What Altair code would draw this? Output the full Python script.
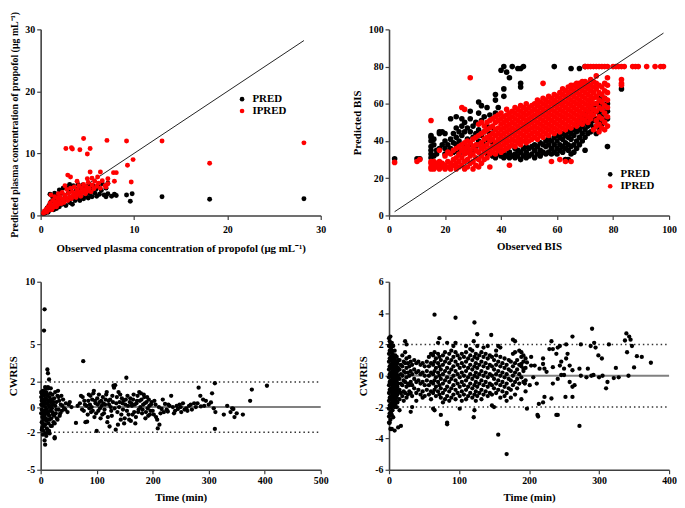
import altair as alt
import pandas as pd

FONT = "Liberation Serif"

# ---------------- Panel A: observed vs predicted propofol concentration ----------------
a_pred = [
    (0.3, 0.3), (0.5, 0.4), (0.6, 0.8), (0.7, 1.2), (0.8, 0.5), (0.9, 1.6), (1.0, 3.4), (1.0, 0.9),
    (1.1, 2.2), (1.2, 1.3), (1.3, 2.9), (1.4, 0.9), (1.5, 3.6), (1.5, 1.6), (1.6, 2.5), (1.7, 1.1),
    (1.8, 3.2), (1.9, 1.9), (2.0, 4.1), (2.0, 1.4), (2.1, 2.7), (2.2, 3.6), (2.3, 1.8), (2.4, 4.4),
    (2.5, 2.3), (2.6, 3.2), (2.7, 1.6), (2.8, 4.6), (2.9, 2.6), (3.0, 3.7), (3.1, 5.0), (3.1, 2.1),
    (3.2, 4.2), (3.3, 2.9), (3.4, 1.8), (3.5, 4.8), (3.6, 3.4), (3.7, 2.4), (3.8, 4.2), (3.9, 2.8),
    (4.0, 5.0), (4.1, 3.6), (4.2, 2.4), (4.3, 4.5), (4.4, 3.0), (4.5, 4.9), (4.6, 2.7), (4.7, 3.8),
    (4.8, 4.6), (4.9, 3.1), (5.0, 4.2), (5.1, 2.8), (5.2, 5.0), (5.3, 3.5), (5.4, 4.4), (5.5, 3.0),
    (5.6, 4.8), (5.8, 3.6), (5.9, 4.2), (6.0, 3.1), (6.2, 4.6), (6.3, 3.4), (6.5, 4.0), (6.6, 5.1),
    (6.8, 3.3), (7.0, 4.4), (7.2, 5.2), (7.0, 3.0), (7.2, 3.5), (7.6, 3.1), (7.9, 3.4), (8.1, 3.2),
    (9.2, 3.3), (9.6, 2.3), (9.8, 3.5), (13.0, 3.0), (18.1, 2.6), (28.2, 2.7),
]
a_ipred = [
    (0.3, 0.4), (0.4, 0.7), (0.5, 0.5), (0.6, 1.0), (0.7, 0.6), (0.8, 1.4), (0.9, 0.9), (1.0, 2.0),
    (1.0, 1.1), (1.1, 3.3), (1.1, 1.6), (1.2, 0.9), (1.3, 2.4), (1.4, 1.3), (1.5, 3.0), (1.5, 1.8),
    (1.6, 2.2), (1.7, 1.4), (1.8, 2.8), (1.9, 3.5), (1.9, 1.8), (2.0, 2.3), (2.1, 3.0), (2.2, 1.9),
    (2.3, 3.7), (2.4, 2.6), (2.5, 2.1), (2.6, 3.3), (2.7, 2.8), (2.8, 4.2), (2.9, 2.4), (3.0, 3.6),
    (3.1, 3.0), (3.2, 4.4), (3.3, 2.7), (3.4, 3.8), (3.5, 3.2), (3.6, 4.6), (3.7, 3.5), (3.8, 2.9),
    (3.9, 4.1), (4.0, 3.4), (4.1, 4.8), (4.2, 3.8), (4.3, 3.1), (4.4, 4.4), (4.5, 3.7), (4.6, 5.0),
    (4.7, 4.1), (4.8, 3.5), (4.9, 4.6), (5.0, 3.9), (5.1, 5.3), (5.2, 4.4), (5.4, 3.8), (5.5, 4.9),
    (5.7, 4.3), (5.8, 5.5), (6.0, 4.7), (6.2, 5.2), (6.4, 4.4), (6.6, 5.6), (6.9, 4.8),
    (2.7, 10.8), (3.3, 10.9), (3.4, 10.7), (4.2, 10.6), (4.6, 12.4), (5.0, 9.9), (5.3, 10.8),
    (7.1, 12.1), (9.2, 12.0), (13.0, 12.0), (28.2, 11.7), (18.1, 8.4), (9.3, 8.1), (9.9, 9.0),
    (9.7, 5.4), (2.9, 6.5), (3.2, 6.2), (5.3, 7.0), (6.4, 7.0), (7.8, 6.9), (8.1, 6.9), (7.2, 5.9),
    (7.9, 5.5), (7.2, 5.1), (7.0, 4.6), (5.0, 5.9), (6.1, 6.2), (2.6, 4.8), (3.9, 5.5), (5.5, 6.0),
]
a_identity = [0.3, 28.2]
a_ticks = [0, 10, 20, 30]

# ---------------- Panel B: observed vs predicted BIS (observed BIS -> predicted values) ----------------
b_pred = {
    2: [30.5], 10: [30.5], 11: [30.5],
    15: [31, 33, 35, 37, 40, 42, 43], 16: [32, 38, 41], 17: [33, 35], 18: [36, 44, 45], 19: [38, 45],
    20: [33, 36, 40, 44], 21: [34, 38], 22: [36, 41, 52], 23: [34, 39, 44], 24: [35, 38, 42, 47, 53],
    25: [33, 40, 45], 26: [35, 43, 48, 52], 27: [37, 45, 50], 28: [34, 41, 47], 29: [38, 45, 52, 56],
    30: [35, 42, 48], 31: [37, 44, 50], 32: [40, 46, 55, 61], 33: [36, 43, 51, 59], 34: [38, 45, 53],
    35: [33, 41, 48, 58], 36: [34, 44, 54], 37: [32, 39, 47], 38: [31, 36, 55, 62, 65], 39: [33, 38, 58],
    40: [32, 35, 78], 41: [31, 34, 64, 68, 80], 42: [32, 36, 77], 43: [31, 34, 74], 44: [32, 80],
    45: [31, 33, 36], 46: [32, 35, 79], 47: [30, 34, 69, 71, 79], 48: [32, 36, 80], 49: [31, 34, 37],
    50: [32, 36], 51: [33, 37], 52: [31, 35, 38], 53: [33, 37], 54: [32, 35, 39], 55: [34, 38],
    56: [33, 37, 40], 57: [34, 38, 41], 58: [33, 36, 40], 59: [34, 38, 42, 80], 60: [33, 36, 40, 43],
    61: [35, 38, 42], 62: [34, 37, 41, 44], 63: [30, 36, 39, 43], 64: [30, 35, 38, 42, 45],
    65: [33, 37, 41, 44, 79], 66: [34, 38, 43, 46], 67: [36, 40, 45, 48], 68: [38, 42, 46, 50, 79],
    69: [40, 44, 48, 52], 70: [35, 42, 46, 50, 54, 80], 71: [44, 48, 52, 56], 72: [45, 49, 53, 57, 61],
    73: [47, 51, 55, 59], 74: [44, 48, 52, 56, 60], 75: [47, 51, 55, 59, 63], 76: [49, 53, 57, 61],
    77: [51, 55, 59, 63], 78: [37, 52, 56, 60], 83: [68],
}
b_ipred = {
    2: [28.5], 10: [29], 11: [30],
    15: [25, 26, 28, 29, 51], 16: [25, 27, 29], 17: [26, 28], 18: [25, 27, 29, 35], 19: [26, 28],
    20: [25, 27, 32], 21: [26, 29, 34], 22: [25, 28, 33], 23: [27, 30, 35], 24: [25, 28, 31, 36],
    25: [26, 29, 33, 37], 26: [27, 31, 35, 38, 58], 27: [25, 29, 33, 36, 39, 57], 28: [26, 30, 34, 37, 40],
    29: [28, 32, 35, 39, 74], 30: [25, 29, 33, 37, 41], 31: [27, 31, 35, 38, 42],
    32: [26, 30, 34, 38, 43, 49], 33: [28, 32, 36, 39, 44, 50], 34: [30, 34, 37, 41, 45, 48],
    35: [31, 35, 38, 42, 46, 50], 36: [26, 33, 36, 40, 43, 47, 51], 37: [34, 37, 41, 44, 48, 52],
    38: [33, 36, 39, 43, 46, 50, 53], 39: [35, 38, 41, 44, 47, 51, 54],
    40: [34, 37, 40, 43, 46, 49, 52, 55], 41: [35, 38, 41, 44, 47, 50, 53],
    42: [36, 39, 42, 45, 48, 51, 54, 57], 43: [27, 37, 40, 43, 46, 49, 52, 55],
    44: [38, 41, 44, 47, 50, 53, 56], 45: [37, 40, 43, 46, 49, 52, 55, 58],
    46: [39, 42, 45, 48, 51, 54, 57], 47: [38, 41, 44, 47, 50, 53, 56, 59],
    48: [40, 43, 46, 49, 52, 55, 58], 49: [39, 42, 45, 48, 51, 54, 57, 60],
    50: [40, 43, 46, 49, 52, 55, 58], 51: [41, 44, 47, 50, 53, 56, 59],
    52: [42, 45, 48, 51, 54, 57, 60], 53: [41, 44, 47, 50, 53, 56, 59, 62],
    54: [43, 46, 49, 52, 55, 58, 61], 55: [42, 45, 48, 51, 54, 57, 60, 63, 71],
    56: [44, 47, 50, 53, 56, 59, 62], 57: [43, 46, 49, 52, 55, 58, 61, 64],
    58: [29, 45, 48, 51, 54, 57, 60, 63], 59: [44, 47, 50, 53, 56, 59, 62, 65],
    60: [46, 49, 52, 55, 58, 61, 64], 61: [30, 45, 48, 51, 54, 57, 60, 63, 66],
    62: [47, 50, 53, 56, 59, 62, 65, 68], 63: [29, 46, 49, 52, 55, 58, 61, 64, 67],
    64: [48, 51, 54, 57, 60, 63, 66, 69], 65: [29, 47, 50, 53, 56, 59, 62, 65, 68, 70],
    66: [49, 52, 55, 58, 61, 64, 67, 70], 67: [48, 51, 54, 57, 60, 63, 66, 69, 71],
    68: [50, 53, 56, 59, 62, 65, 68, 71], 69: [49, 52, 55, 58, 61, 64, 67, 70, 72],
    70: [51, 54, 57, 60, 63, 66, 69, 72, 80], 71: [50, 53, 56, 59, 62, 65, 68, 71, 80],
    72: [52, 55, 58, 61, 64, 67, 70, 73, 80], 73: [46, 54, 57, 60, 63, 66, 69, 72, 80],
    74: [48, 51, 56, 60, 64, 68, 71, 75, 80], 75: [45, 49, 53, 58, 62, 66, 70, 80],
    76: [47, 52, 57, 61, 65, 69, 80], 77: [46, 50, 55, 59, 63, 67, 71, 80],
    78: [48, 53, 58, 62, 66, 70, 74, 80], 80: [80], 81: [80], 82: [80], 83: [70, 71, 73, 80],
    84: [80], 87: [80], 88: [80], 89: [80], 92: [80], 95: [80], 97: [80], 98: [80],
}
b_identity = [2, 98]
b_ticks = [0, 20, 40, 60, 80, 100]

# ---------------- Panel C: CWRES vs time (concentration model) ----------------
c_points = [
    (1, 0.2), (1, -0.5), (1, 0.8), (2, -1.2), (2, 0.5), (2, -0.2), (3, 1.0), (3, -0.8), (3, 0.1),
    (3, -1.6), (4, 0.6), (4, -0.4), (4, 1.3), (5, -1.0), (5, 0.3), (5, -1.9), (6, 0.9), (6, -0.3),
    (6, 6.1), (7, 7.8), (7, -0.7), (7, 0.4), (7, -2.66), (8, -3.0), (8, 1.6), (8, -1.4), (8, 0.0),
    (9, 0.7), (9, -0.9), (9, -2.1), (10, 0.3), (10, -0.5), (10, 1.2), (11, -1.7), (11, 0.6),
    (11, -0.2), (12, 3.0), (12, 0.9), (12, -1.0), (13, 2.7), (13, -0.4), (13, 0.2), (13, -2.0),
    (14, 1.5), (14, -1.3), (15, 2.2), (15, 0.0), (15, -0.7), (16, -2.1), (16, 0.8), (17, -0.3),
    (17, 1.1), (18, -1.5), (18, 0.4), (19, -0.9), (20, 0.6), (20, -0.1), (21, 1.0), (22, -0.6),
    (22, 0.2), (23, -1.2), (24, 0.7), (25, -2.4), (25, -2.5), (25, -1.3), (26, 0.1), (27, -0.5),
    (28, 0.4), (29, -0.9), (30, 0.9), (31, 1.3), (32, -0.2), (33, 0.5), (34, -0.7), (36, 0.2),
    (38, -0.3), (40, 0.6), (42, -0.1), (45, 0.3), (48, -0.4), (52, 0.4), (55, 0.0),
    (1, 1.2), (2, -1.8), (2, 1.1), (3, 0.6), (4, -1.3), (4, -2.2), (5, 1.0), (5, -0.6), (6, 0.2),
    (6, -1.5), (7, 1.2), (8, 0.6), (9, -0.3), (9, 1.5), (10, -1.1), (10, -2.3), (11, 1.0), (12, 0.3),
    (12, -1.8), (13, 1.6), (14, -0.6), (14, 0.5), (15, -1.9), (16, -1.0), (17, 0.5), (18, 1.5),
    (19, 0.1), (20, -1.5), (21, -0.4), (23, 0.4), (24, -0.7), (26, 1.2), (28, -0.2), (30, -1.0),
    (32, 0.8), (35, -0.5), (37, 0.9), (39, 0.1), (44, -0.2), (50, 0.2),
    (63, -1.26), (70, 0.3), (72, 0.9), (74, -0.2), (76, 3.66), (78, 0.5), (80, -1.2), (82, 0.1),
    (84, -0.6), (86, 1.0), (88, 0.2), (90, -0.4), (92, 0.6), (94, 1.1), (96, -0.8), (98, 0.3),
    (100, -1.9), (101, 0.7), (103, -0.3), (105, 0.4), (107, -0.9), (109, 0.1), (111, 0.8),
    (113, -0.5), (115, 0.2), (117, 1.0), (119, -1.2), (121, 0.5), (123, -1.55), (125, 0.0),
    (127, -0.7), (128, 0.9), (130, 1.7), (131, 1.55), (133, 1.75), (134, -1.8), (135, 0.3),
    (137, -0.4), (139, 1.2), (141, 0.4), (143, -1.0), (145, 0.7), (147, -0.2), (149, -1.3),
    (151, 0.2), (153, 2.34), (155, 0.9), (157, -0.6), (159, 0.4), (161, -1.1), (163, 0.1),
    (165, 0.6), (167, -0.4), (169, -1.3), (171, 0.3), (173, 0.9), (175, -0.2), (177, 0.5),
    (179, 1.1), (181, -0.5), (183, 0.2), (185, 0.8), (187, -0.9), (189, 0.4), (191, -0.1),
    (193, 0.6), (195, -0.6), (197, 0.2), (200, -0.3), (203, 0.5), (206, -0.8), (209, -1.7),
    (212, -1.4), (214, -0.5), (216, -0.15), (218, 0.6), (222, 0.25), (225, -0.2), (227, -0.35),
    (230, 0.1), (233, 0.9), (236, 0.0), (240, -0.3), (245, -0.15), (248, 0.2), (251, -0.4),
    (254, 0.3), (257, -0.2), (260, -0.1), (265, 0.1), (270, -0.2), (274, 0.3), (277, 0.0),
    (280, 0.3), (282, 1.55), (285, 0.9), (286, 0.05), (290, 0.6), (292, 0.1), (295, 0.5),
    (300, 0.2), (304, 0.37), (306, 1.1), (309, -0.1), (311, 1.9), (311, -1.74), (312, -0.4),
    (327, -0.6), (333, 0.1), (339, -0.4), (342, -0.1), (344, -0.15), (346, -0.8), (350, -0.5),
    (361, -0.6), (374, 0.5), (377, 1.4), (404, 1.7),
    (66, 0.1), (75, 0.8), (77, -0.3), (79, 0.2), (83, -1.16), (85, 0.5), (87, -0.1), (89, 0.9),
    (91, 0.0), (93, -0.3), (95, 1.3), (97, 0.5), (99, -0.5), (102, 0.2), (104, 1.0), (106, -0.1),
    (108, 0.5), (110, -0.6), (112, 0.3), (114, -0.2), (116, 0.6), (118, 1.2), (120, -0.8),
    (122, 0.2), (124, 0.6), (126, -0.3), (129, 0.4), (132, -0.1), (136, 0.8), (138, -1.4),
    (140, 0.0), (142, 1.0), (144, -0.6), (146, 0.3), (148, 0.5), (150, -0.9), (152, 0.6),
    (154, -0.3), (156, 0.1), (158, -1.0), (160, 0.7), (162, 0.3), (164, -0.6), (166, 1.0),
    (168, 0.2), (170, -0.8), (172, 0.5), (174, -0.4), (176, 1.2), (178, 0.0), (180, 0.6),
    (182, -0.2), (184, 1.0), (186, 0.3), (188, -0.4), (190, 0.8), (192, -0.7), (194, 0.1),
    (196, -0.3), (198, 0.4), (202, -0.6), (205, 0.2), (208, -1.0), (211, 0.0), (220, -0.4),
    (228, 0.2), (238, -0.5), (243, 0.1), (250, 0.0), (262, -0.3), (268, 0.2),
]
c_xticks = [0, 100, 200, 300, 400, 500]
c_yticks = [-5, -2, 0, 2, 5, 10]

# ---------------- Panel D: CWRES vs time (BIS model) ----------------
d_columns = {
    0: [2.4, 1.9, 1.4, 0.9, 0.4, -0.1, -0.6, -1.1, -1.6, -2.1, -2.6, -3.0],
    1: [2.2, 1.6, 1.1, 0.6, 0.1, -0.4, -0.9, -1.4, -1.9, -2.4, -3.0],
    2: [2.5, 2.0, 1.5, 1.0, 0.5, 0.0, -0.5, -1.0, -1.5, -2.0, -2.8, -3.4],
    3: [1.8, 1.2, 0.7, 0.2, -0.3, -0.8, -1.3, -1.8, -2.3],
    4: [2.1, 1.6, 1.0, 0.5, 0.0, -0.5, -1.0, -1.5, -2.0, -2.5, -3.4],
    5: [1.4, 0.8, 0.3, -0.2, -0.7, -1.2, -1.7, -2.2],
    6: [1.9, 1.3, 0.8, 0.3, -0.2, -0.7, -1.2, -1.7, -2.65],
    7: [1.1, 0.6, 0.1, -0.4, -0.9, -1.4, -1.9],
    8: [1.6, 1.0, 0.5, 0.0, -0.5, -1.0, -1.5, -2.0, -3.5],
    9: [1.3, 0.7, 0.2, -0.3, -0.8, -1.3, -1.8],
    10: [0.9, 0.4, -0.1, -0.6, -1.1, -1.6],
    11: [1.2, 0.6, 0.1, -0.4, -0.9, -1.4, -2.0],
    12: [0.8, 0.3, -0.2, -0.7, -1.2, -1.7],
    13: [1.0, 0.5, 0.0, -0.5, -1.0, -3.3],
    15: [1.0, 0.4, -0.2, -0.9, -1.5, -2.2],
    17: [0.7, 0.1, -0.5, -1.1, -3.2],
    19: [1.3, 0.6, 0.0, -0.6, -1.3],
    21: [0.9, 0.3, -0.3, -1.0, -1.6],
    23: [1.5, 0.8, 0.2, -0.4, -1.1, 2.2],
    25: [1.1, 0.5, -0.1, -0.7, -1.4, 2.0],
    27: [0.8, 0.2, -0.5, -1.2],
    29: [1.2, 0.6, 0.0, -0.6, -1.0],
    31: [0.9, 0.3, -0.4, -1.1, -2.3],
    33: [0.7, 0.1, -0.6, -1.3, -2.0],
    36: [1.0, 0.4, -0.2, -0.8],
    39: [0.8, 0.2, -0.4, -1.1, -1.6],
    42: [0.9, 0.3, -0.3, -0.9],
    45: [0.7, 0.1, -0.5, -1.2],
    48: [0.8, 0.2, -0.4, -1.0, -1.4],
    51: [0.6, 0.0, -0.6, -1.3],
    54: [0.9, 0.3, -0.3, -0.9],
    57: [1.2, 0.6, 0.0, -0.6, -1.2],
    60: [1.4, 0.8, 0.2, -0.4, -1.0, -1.5],
    63: [1.3, 0.7, 0.1, -0.5, -1.1, -2.1],
    65: [3.9, 1.5, 0.9, 0.3, -0.3, -0.9, -2.2],
    67: [1.1, 0.5, -0.1, -0.7, -1.3],
    70: [1.4, 0.8, 0.2, -0.4, -1.0, 2.1],
    72: [1.2, 0.6, 0.0, -0.6, -1.2, 2.4],
    74: [1.0, 0.4, -0.2, -0.8, -1.4, -2.5],
    77: [1.3, 0.7, 0.1, -0.5, -1.1, -1.7],
    80: [1.5, 0.9, 0.3, -0.3, -0.9, -1.5],
    83: [1.1, 0.5, -0.1, -0.7, -1.3, -3.0, -3.1, 2.1],
    86: [1.4, 0.8, 0.2, -0.4, -1.0, -1.6],
    89: [1.6, 1.0, 0.4, -0.2, -0.8, -1.4],
    92: [1.2, 0.6, 0.0, -0.6, -1.2, 1.9],
    95: [3.7, 1.5, 0.9, 0.3, -0.3, -0.9, -1.5, 2.1],
    98: [1.3, 0.7, 0.1, -0.5, -1.1],
    101: [1.1, 0.5, -0.1, -0.7, -1.3, -2.1],
    104: [1.4, 0.8, 0.2, -0.4, -1.0, -1.6],
    107: [1.2, 0.6, 0.0, -0.6, -1.2],
    110: [1.5, 0.9, 0.3, -0.3, -0.9, -1.5, 1.9],
    113: [1.1, 0.5, -0.1, -0.7, -1.3],
    116: [1.3, 0.7, 0.1, -0.5, -1.1, 1.7],
    119: [1.6, 1.0, 0.4, -0.2, -0.8, -1.4],
    121: [-2.65, 2.2],
    122: [3.4, 1.2, 0.6, 0.0, -0.6, -1.2, -2.2],
    124: [1.4, 0.8, 0.2, -0.4, -1.0, -1.6],
    126: [2.65, 1.1, 0.5, -0.1, -0.7, -1.3, 1.9],
    129: [1.3, 0.7, 0.1, -0.5, -1.1],
    132: [1.5, 0.9, 0.3, -0.3, -0.9, -1.5],
    135: [1.2, 0.6, 0.0, -0.6, -1.2, 1.8],
    138: [1.4, 0.8, 0.2, -0.4, -1.0],
    141: [1.1, 0.5, -0.1, -0.7, -1.3, 1.9],
    144: [1.3, 0.7, 0.1, -0.5, -1.1],
    146: [2.6],
    147: [1.2, 0.6, 0.0, -0.6, -1.2, -1.9],
    150: [1.0, 0.4, -0.2, -0.8, -2.0],
    153: [1.3, 0.7, 0.1, -0.5, -1.1, 1.6],
    156: [-3.76, 0.9, 0.3, -0.3, -0.9, 1.9],
    159: [1.2, 0.6, 0.0, -0.6, -1.4, 1.8],
    162: [0.8, 0.2, -0.4, -1.0],
    165: [1.1, 0.5, -0.1, -0.7, -1.3],
    168: [-5.0, 0.7, 0.1, -0.5, -1.1, -1.6],
    171: [1.0, 0.4, -0.2, -0.8],
    174: [0.9, 0.3, -0.3, -0.9, -1.4],
    177: [1.4, 0.6, 0.0, -0.6, 2.3],
    180: [1.5, 0.8, 0.2, -0.4, -1.2, 2.2],
    183: [1.0, 0.4, -0.2, -0.8],
    186: [0.7, 0.1, -0.5, 1.6],
    189: [1.2, 0.6, -0.1, -1.5, 1.5],
    192: [0.9, 0.3, -0.4],
    195: [1.1, 0.5, -0.3, -1.0],
}
d_sparse = [
    (192, 1.3), (203, 1.2), (220, 1.1), (232, 2.2), (241, 1.8), (244, 1.9), (239, 1.4), (253, 2.0),
    (262, 2.5), (290, 3.0), (274, 2.0), (288, 1.9), (293, 2.1), (295, 1.8), (314, 2.0), (299, 1.3),
    (304, 1.1), (324, 0.5), (337, 2.25), (339, 2.7), (343, 2.5), (345, 2.3), (347, 1.9), (340, 1.5),
    (354, 1.25), (361, 1.2), (350, 0.53), (374, 0.83), (342, 0.0), (328, -0.1), (321, -0.15),
    (312, -0.4), (310, -0.8), (305, 0.0), (300, -0.1), (292, 0.05), (289, 0.0), (282, -0.1),
    (274, 0.0), (272, 0.45), (284, 0.45), (262, 0.35), (258, 0.65), (250, 0.45), (246, 0.05),
    (241, -0.2), (234, -0.5), (232, -1.45), (222, -1.35), (220, -1.7), (214, -1.8), (212, -2.5),
    (197, -2.1), (239, -2.5), (262, -1.35), (252, -1.35), (272, -3.2), (250, 0.05), (258, -0.4),
    (262, -0.7), (265, -0.6), (244, 0.65), (246, 0.9), (234, 0.55), (225, 0.25), (215, 0.45),
    (208, 0.65), (206, -0.1), (211, -0.5), (201, -0.6), (194, -0.5), (192, 0.45), (189, 0.75),
    (197, 0.85), (203, 0.65), (220, 0.75), (222, 0.45), (229, 1.7), (234, 1.7), (253, 1.1),
    (255, 1.4), (213, -2.6), (241, -2.5),
]
d_xticks = [0, 100, 200, 300, 400]
d_yticks = [-6, -4, -2, 0, 2, 4, 6]

# ---------------- build tables ----------------
df_a = pd.DataFrame(
    [(x, y, "PRED") for x, y in a_pred] + [(x, y, "IPRED") for x, y in a_ipred],
    columns=["obs", "pred", "type"],
)
df_a_line = pd.DataFrame({"obs": a_identity, "pred": a_identity})

df_b = pd.DataFrame(
    [(x, y, "PRED") for x, ys in b_pred.items() for y in ys]
    + [(x, y, "IPRED") for x, ys in b_ipred.items() for y in ys],
    columns=["obs", "pred", "type"],
)
df_b_line = pd.DataFrame({"obs": b_identity, "pred": b_identity})

df_c = pd.DataFrame(c_points, columns=["time", "cwres"])
df_d = pd.DataFrame(
    [(t, y) for t, ys in d_columns.items() for y in ys] + d_sparse, columns=["time", "cwres"]
)

ref_c = pd.DataFrame({"time": [0, 0, 0], "time_end": [500, 500, 500], "cwres": [0, 2, -2],
                      "kind": ["zero", "band", "band"]})
ref_d = pd.DataFrame({"time": [0, 0, 0], "time_end": [400, 400, 400], "cwres": [0, 2, -2],
                      "kind": ["zero", "band", "band"]})


def axis(title, values, label_pad, title_pad, title_size=11, **extra):
    return alt.Axis(
        title=title, values=values, grid=False,
        domainColor="#404040", domainWidth=1.6, tickColor="#404040", tickWidth=1.2, tickSize=4,
        labelFont=FONT, labelFontWeight="bold", labelFontSize=10, labelColor="black",
        labelPadding=label_pad, labelFlush=False, labelOverlap=False,
        labelExpr="'' + datum.value",
        titleFont=FONT, titleFontWeight="bold", titleFontSize=title_size, titleColor="black",
        titlePadding=title_pad, **extra,
    )


def legend(lx, ly):
    return alt.Legend(
        title=None, orient="none", legendX=lx, legendY=ly, direction="vertical",
        labelFont=FONT, labelFontWeight="bold", labelFontSize=11, labelColor="black",
        symbolType="circle", symbolSize=22, symbolStrokeWidth=0, rowPadding=0, padding=0,
        labelOffset=5,
    )


color_scale = alt.Scale(domain=["PRED", "IPRED"], range=["#000000", "#ff0000"])

W, H_TOP, H_BOT = 283, 188, 190

# Panel A
ax_x = alt.X("obs:Q", scale=alt.Scale(domain=[0, 30], nice=False),
             axis=axis("Observed plasma concentration of propofol (μg mL⁻¹)", a_ticks, 5, 8))
ax_y = alt.Y("pred:Q", scale=alt.Scale(domain=[0, 30], nice=False),
             axis=axis("Predicted plasma concentration of propofol (μg mL⁻¹)", a_ticks, 2, 5, 10,
                       titleY=96))
a_pts = alt.Chart(df_a).mark_circle(size=25, opacity=1).encode(
    x=ax_x, y=ax_y,
    color=alt.Color("type:N", scale=color_scale, legend=legend(198, 65)),
)
a_line = alt.Chart(df_a_line).mark_line(color="#222222", strokeWidth=1).encode(x=ax_x, y=ax_y)
chart_a = alt.layer(a_line, a_pts).properties(width=W, height=H_TOP)

# Panel B
bx = alt.X("obs:Q", scale=alt.Scale(domain=[0, 100], nice=False), axis=axis("Observed BIS", b_ticks, 5, 6))
by = alt.Y("pred:Q", scale=alt.Scale(domain=[0, 100], nice=False), axis=axis("Predicted BIS", b_ticks, 2, 6))
b_pts = alt.Chart(df_b).mark_circle(size=32, opacity=1).encode(
    x=bx, y=by,
    color=alt.Color("type:N", scale=color_scale, legend=legend(218, 141)),
)
b_line = alt.Chart(df_b_line).mark_line(color="#222222", strokeWidth=1).encode(x=bx, y=by)
chart_b = alt.layer(b_pts, b_line).properties(width=W, height=H_TOP)


def resid_panel(df, ref, xdom, xticks, ydom, yticks):
    cx = alt.X("time:Q", scale=alt.Scale(domain=xdom, nice=False), axis=axis("Time (min)", xticks, 2, 6))
    cy = alt.Y("cwres:Q", scale=alt.Scale(domain=ydom, nice=False), axis=axis("CWRES", yticks, 2, 6))
    pts = alt.Chart(df).mark_circle(size=19, opacity=1, color="black").encode(x=cx, y=cy)
    zero = alt.Chart(ref).transform_filter(alt.datum.kind == "zero").mark_rule(
        color="#808080", strokeWidth=2
    ).encode(x=cx, x2="time_end:Q", y=cy)
    band = alt.Chart(ref).transform_filter(alt.datum.kind == "band").mark_rule(
        color="#333333", strokeWidth=1.5, strokeDash=[1.5, 3]
    ).encode(x=cx, x2="time_end:Q", y=cy)
    return alt.layer(zero, band, pts).properties(width=W, height=H_BOT)


chart_c = resid_panel(df_c, ref_c, [0, 500], c_xticks, [-5, 10], c_yticks)
chart_d = resid_panel(df_d, ref_d, [0, 400], d_xticks, [-6, 6], d_yticks)

chart = alt.concat(
    chart_a, chart_b, chart_c, chart_d, columns=2,
    spacing={"row": 67, "column": 69}, bounds="flush",
).resolve_scale(color="independent").resolve_legend(color="independent").properties(
    padding={"left": 0, "top": 0, "right": 0, "bottom": 0},
    background="white",
).configure_view(stroke=None).configure_axis(labelOverlap=False)

chart.save("out.html", embed_options={"renderer": "svg", "actions": False})
